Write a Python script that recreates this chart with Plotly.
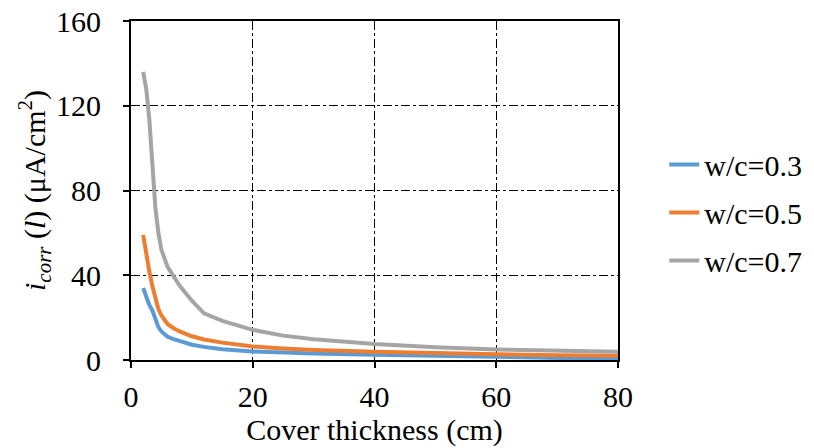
import plotly.graph_objects as go

# Cover thickness (cm)
cover = [2, 2.5, 3, 3.5, 4, 4.5, 5, 6, 7, 8, 10, 12, 15, 20, 25, 30, 40, 50, 60, 70, 80]

# Corrosion current density (µA/cm²) for each water/cement ratio
icorr_wc03 = [34, 30, 26, 23.5, 19, 15.5, 13.5, 11, 9.8, 8.8, 7.2, 6.2, 5.1, 4.0, 3.5, 3.1, 2.5, 1.9, 1.4, 1.0, 0.7]
icorr_wc05 = [59, 50, 42, 35, 29, 24, 21, 17, 15, 13.5, 11.2, 9.7, 8.2, 6.4, 5.4, 4.7, 3.9, 3.2, 2.7, 2.3, 2.0]
icorr_wc07 = [136, 128, 114, 92, 72, 60, 52, 44, 39.5, 35, 28, 22, 18.5, 14.2, 11.5, 9.8, 7.5, 6.0, 5.0, 4.4, 3.9]

series_names = ["w/c=0.3", "w/c=0.5", "w/c=0.7"]
series_values = [icorr_wc03, icorr_wc05, icorr_wc07]
series_colors = ["#5B9BD5", "#ED7D31", "#A5A5A5"]

x_ticks = [0, 20, 40, 60, 80]
y_ticks = [0, 40, 80, 120, 160]

FONT = "Liberation Serif"
FS = 30

fig = go.Figure()
for name, vals, color in zip(series_names, series_values, series_colors):
    fig.add_trace(go.Scatter(
        x=cover, y=vals, name=name, mode="lines", legendgroup=name,
        line=dict(color=color, width=4),
    ))

axis_common = dict(
    showline=True, linecolor="black", linewidth=2, mirror=True,
    ticks="outside", ticklen=6, tickcolor="black", tickwidth=1.5,
    showgrid=True, gridcolor="black", gridwidth=1.3, griddash="dashdot",
    zeroline=False, automargin=False,
    tickfont=dict(family=FONT, size=FS, color="black"),
)

fig.update_xaxes(
    range=[0, 80], tickvals=x_ticks, ticklabelstandoff=3,
    title=dict(text="Cover thickness (cm)", font=dict(family=FONT, size=FS, color="black"), standoff=0),
    **axis_common,
)
fig.update_yaxes(
    range=[0, 160], tickvals=y_ticks, ticklabelstandoff=16,
    title=dict(text="<i>i</i><sub><i>corr</i></sub> (<i>l</i>) (μA/cm<sup>2</sup>)",
               font=dict(family=FONT, size=FS, color="black"), standoff=2),
    **axis_common,
)

fig.update_layout(
    width=814, height=448,
    margin=dict(l=131, r=196, t=21, b=88, autoexpand=False),
    paper_bgcolor="white", plot_bgcolor="white",
    font=dict(family=FONT, size=FS, color="black"),
    legend=dict(
        x=1.095, y=0.435, xanchor="left", yanchor="middle",
        traceorder="grouped", tracegroupgap=6,
        font=dict(family=FONT, size=FS, color="black"),
        bgcolor="rgba(0,0,0,0)",
    ),
    showlegend=True,
)

fig.write_html("out.html")
